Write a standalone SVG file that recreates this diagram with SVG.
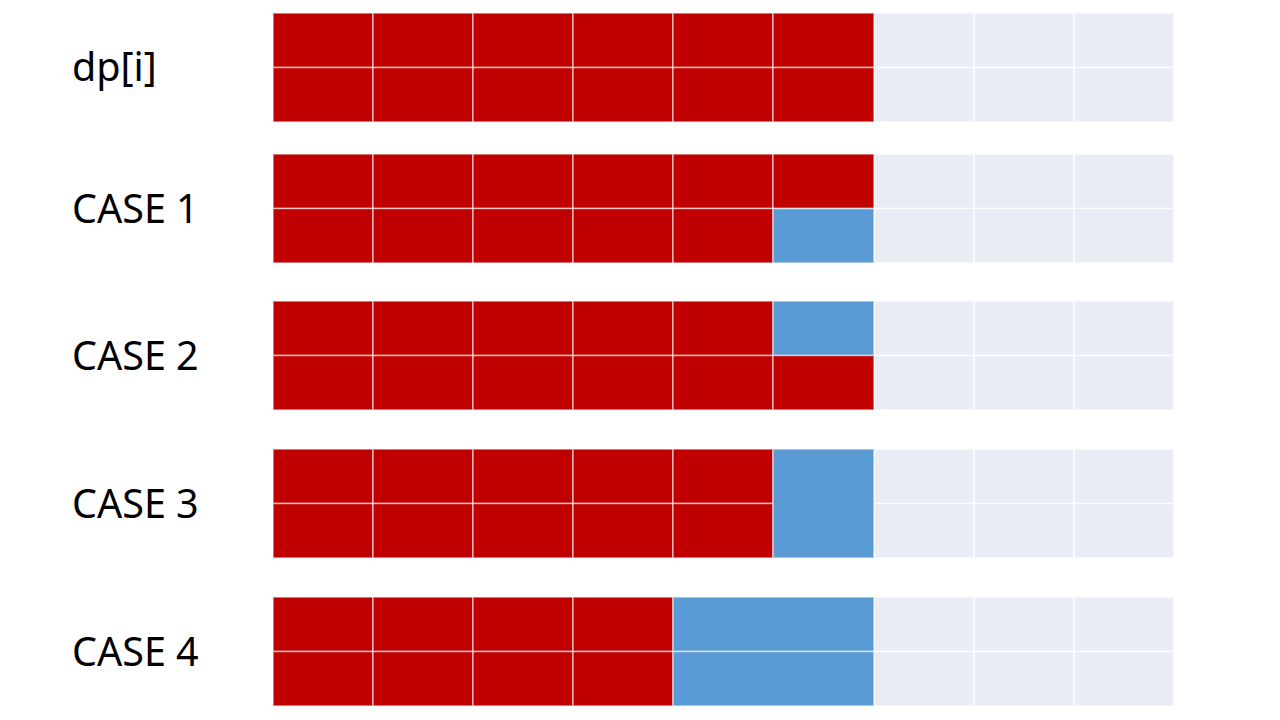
<svg xmlns="http://www.w3.org/2000/svg" width="1280" height="720" viewBox="0 0 1280 720">
<style>
.r{fill:#C00000;stroke:#ffffff;stroke-opacity:0.6;stroke-width:1.5}
.b{fill:#5B9BD5;stroke:#ffffff;stroke-opacity:0.6;stroke-width:1.5}
.g{fill:#E9EBF5;stroke:#ffffff;stroke-opacity:0.8;stroke-width:1.5}
.t{font-family:"Noto Sans","Open Sans",sans-serif;font-size:39.5px;fill:#000}
</style>
<defs>
<g id="row">
<rect class="r" x="273" y="0" width="100" height="54.5"/>
<rect class="r" x="373" y="0" width="100" height="54.5"/>
<rect class="r" x="473" y="0" width="100" height="54.5"/>
<rect class="r" x="573" y="0" width="100" height="54.5"/>
<rect class="g" x="874" y="0" width="100" height="54.5"/>
<rect class="g" x="974" y="0" width="100" height="54.5"/>
<rect class="g" x="1074" y="0" width="100" height="54.5"/>
</g>
</defs>
<g id="dp">
<text class="t" x="72" y="81">dp[i]</text>
<use href="#row" y="13"/><use href="#row" y="67.5"/>
<rect class="r" x="673" y="13" width="100" height="54.5"/>
<rect class="r" x="773" y="13" width="101" height="54.5"/>
<rect class="r" x="673" y="67.5" width="100" height="54.5"/>
<rect class="r" x="773" y="67.5" width="101" height="54.5"/>
</g>
<g id="case1">
<text class="t" x="72" y="223">CASE 1</text>
<use href="#row" y="154"/><use href="#row" y="208.5"/>
<rect class="r" x="673" y="154" width="100" height="54.5"/>
<rect class="r" x="773" y="154" width="101" height="54.5"/>
<rect class="r" x="673" y="208.5" width="100" height="54.5"/>
<rect class="b" x="773" y="208.5" width="101" height="54.5"/>
</g>
<g id="case2">
<text class="t" x="72" y="370">CASE 2</text>
<use href="#row" y="301"/><use href="#row" y="355.5"/>
<rect class="r" x="673" y="301" width="100" height="54.5"/>
<rect class="b" x="773" y="301" width="101" height="54.5"/>
<rect class="r" x="673" y="355.5" width="100" height="54.5"/>
<rect class="r" x="773" y="355.5" width="101" height="54.5"/>
</g>
<g id="case3">
<text class="t" x="72" y="518">CASE 3</text>
<use href="#row" y="449"/><use href="#row" y="503.5"/>
<rect class="r" x="673" y="449" width="100" height="54.5"/>
<rect class="r" x="673" y="503.5" width="100" height="54.5"/>
<rect class="b" x="773" y="449" width="101" height="109"/>
</g>
<g id="case4">
<text class="t" x="72" y="666">CASE 4</text>
<use href="#row" y="597"/><use href="#row" y="651.5"/>
<rect class="b" x="673" y="597" width="201" height="54.5"/>
<rect class="b" x="673" y="651.5" width="201" height="54.5"/>
</g>
<g id="connectors"></g>
</svg>
